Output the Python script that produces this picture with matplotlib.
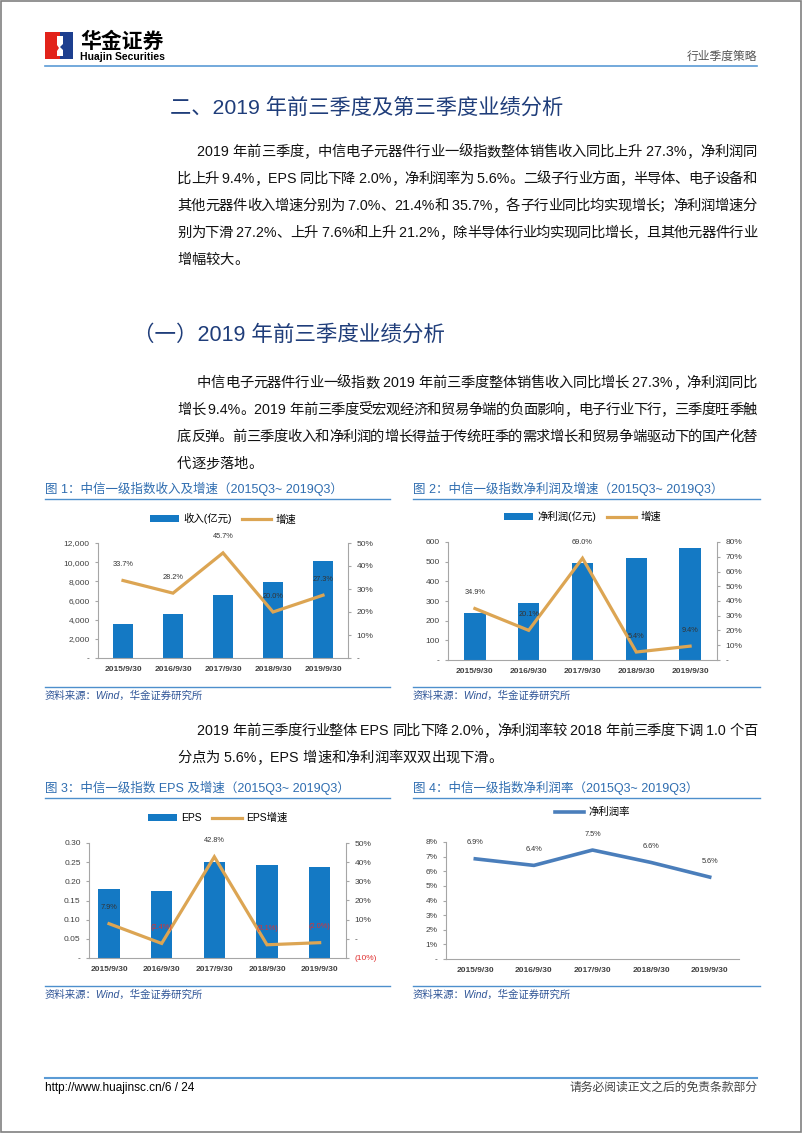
import numpy as np
import matplotlib
matplotlib.use('Agg')
import matplotlib.pyplot as plt
from matplotlib.patches import Rectangle, Polygon
from matplotlib.ticker import FuncFormatter, MultipleLocator

plt.rcParams['font.family'] = ['Liberation Sans', 'Noto Sans CJK SC', 'DejaVu Sans']

W, H = 802, 1133

# ---- data ----
dates = ['2015/9/30', '2016/9/30', '2017/9/30', '2018/9/30', '2019/9/30']
revenue = [3550, 4580, 6600, 7950, 10100]
revenue_g = [33.7, 28.2, 45.7, 20.0, 27.3]
profit = [240, 290, 493, 518, 570]
profit_g = [34.9, 20.1, 69.0, 5.4, 9.4]
eps = [0.180, 0.175, 0.250, 0.242, 0.237]
eps_g = [7.9, -2.4, 42.8, -3.1, -2.0]
margin = [6.85, 6.4, 7.45, 6.6, 5.6]
margin_lbl = ['6.9%', '6.4%', '7.5%', '6.6%', '5.6%']

para1 = ['2019 年前三季度，中信电子元器件行业一级指数整体销售收入同比上升 27.3%，净利润同',
         '比上升 9.4%，EPS 同比下降 2.0%，净利润率为 5.6%。二级子行业方面，半导体、电子设备和',
         '其他元器件收入增速分别为 7.0%、21.4%和 35.7%，各子行业同比均实现增长；净利润增速分',
         '别为下滑 27.2%、上升 7.6%和上升 21.2%，除半导体行业均实现同比增长，且其他元器件行业',
         '增幅较大。']
para2 = ['中信电子元器件行业一级指数 2019 年前三季度整体销售收入同比增长 27.3%，净利润同比',
         '增长 9.4%。2019 年前三季度受宏观经济和贸易争端的负面影响，电子行业下行，三季度旺季触',
         '底反弹。前三季度收入和净利润的增长得益于传统旺季的需求增长和贸易争端驱动下的国产化替',
         '代逐步落地。']
para3 = ['2019 年前三季度行业整体 EPS 同比下降 2.0%，净利润率较 2018 年前三季度下调 1.0 个百',
         '分点为 5.6%，EPS 增速和净利润率双双出现下滑。']

BAR = '#1479c4'
ORANGE = '#dca553'
LBLUE = '#4a7ebb'
NAVY = '#1f3d7a'
TBLUE = '#2f6db0'
GRID = '#a6a6a6'

fig = plt.figure(figsize=(W / 100, H / 100), dpi=100)
page = fig.add_axes([0, 0, 1, 1])
page.set_xlim(0, W)
page.set_ylim(H, 0)
page.axis('off')
page.add_patch(Rectangle((0.5, 0.5), W - 1.5, H - 1.5, fill=False, ec='#808080', lw=1.2))

# header
page.add_patch(Rectangle((45, 32), 15, 27, color='#e2231a', lw=0))
page.add_patch(Rectangle((60, 32), 13, 27, color='#1d3f8f', lw=0))
page.add_patch(Polygon([(57, 36), (63, 36), (63, 44), (60, 47), (63, 50), (63, 56), (57, 56),
                        (57, 51), (59, 48), (57, 45)], color='white', lw=0))
page.text(80, 41, '华金证券', fontsize=15, fontweight='bold', va='center', ha='left',
          family=['Noto Sans CJK SC'])
page.text(80, 57.5, 'Huajin Securities', fontsize=7.5, fontweight='bold', va='center', ha='left')
page.text(757, 57, '行业季度策略', fontsize=8.5, color='#555555', va='center', ha='right')
page.plot([45, 757], [65.5, 65.5], color='#5b9bd5', lw=1.2)

# footer
page.plot([45, 757], [1078, 1078], color='#5b9bd5', lw=1.5)
page.text(45, 1088, 'http://www.huajinsc.cn/6 / 24', fontsize=8.5, va='center', ha='left')
page.text(757, 1088, '请务必阅读正文之后的免责条款部分', fontsize=8.5, color='#444444',
          va='center', ha='right')

page.text(170, 107, '二、2019 年前三季度及第三季度业绩分析', fontsize=15.3, color=NAVY,
          va='center', ha='left')
page.text(133, 335, '（一）2019 年前三季度业绩分析', fontsize=15.5, color=NAVY,
          va='center', ha='left')

renderer = fig.canvas.get_renderer()


def tokens(s):
    out, buf = [], ''
    for ch in s:
        if ord(ch) < 128:
            buf += ch
        else:
            if buf:
                out.append(buf)
                buf = ''
            out.append(ch)
    if buf:
        out.append(buf)
    return out


def line(s, x0, y, x1=757, justify=True, fs=10.3):
    toks = tokens(s)
    ts = [page.text(0, y, t, fontsize=fs, va='center', ha='left', color='#111111') for t in toks]
    ws = [t.get_window_extent(renderer).width for t in ts]
    total = sum(ws)
    gap = (x1 - x0 - total) / (len(ts) - 1) if justify and len(ts) > 1 else 0
    x = x0
    for t, w in zip(ts, ws):
        t.set_x(x)
        x += w + gap


def para(lines, y0, step=27):
    for i, s in enumerate(lines):
        last = i == len(lines) - 1
        line(s, 197 if i == 0 else 177, y0 + i * step, justify=not last)


para(para1, 152)
para(para2, 383)
para(para3, 731)


def rect(l, t, r, b):
    return [l / W, 1 - b / H, (r - l) / W, (b - t) / H]


def caption(x0, x1, y, title):
    page.text(x0, y, title, fontsize=9, color=TBLUE, va='center', ha='left')
    page.plot([x0, x1], [y + 10, y + 10], color='#4d8fcc', lw=1)
    page.text(x0, y + 207, '资料来源：Wind，华金证券研究所', fontsize=7.5, color='#2f5597',
              style='italic', va='center', ha='left')
    page.plot([x0, x1], [y + 198, y + 198], color='#4d8fcc', lw=1)


caption(45, 390, 489, '图 1：中信一级指数收入及增速（2015Q3~ 2019Q3）')
caption(413, 760, 489, '图 2：中信一级指数净利润及增速（2015Q3~ 2019Q3）')
caption(45, 390, 788, '图 3：中信一级指数 EPS 及增速（2015Q3~ 2019Q3）')
caption(413, 760, 788, '图 4：中信一级指数净利润率（2015Q3~ 2019Q3）')

LEG = dict(frameon=False, fontsize=7.5, handlelength=2.8, handleheight=0.6,
           columnspacing=1.0, handletextpad=0.4)


def style(ax):
    for s in ['top', 'right']:
        ax.spines[s].set_visible(False)
    for s in ['left', 'bottom']:
        ax.spines[s].set_color(GRID)
    ax.tick_params(axis='both', labelsize=6, colors='#404040', length=2.5, color=GRID)
    ax.tick_params(axis='x', length=0, pad=6)
    ax.set_xticks(range(5))
    ax.set_xticklabels(dates, fontsize=6, fontweight='bold', color='#404040')


def right_axis(ax, lo, hi, step):
    ax2 = ax.twinx()
    for s in ['top', 'left', 'bottom']:
        ax2.spines[s].set_visible(False)
    ax2.spines['right'].set_color(GRID)
    ax2.set_ylim(lo, hi)
    ax2.yaxis.set_major_locator(MultipleLocator(step))
    ax2.yaxis.set_major_formatter(FuncFormatter(
        lambda v, p: '-' if abs(v) < 1e-9 else (f'({-v:.0f}%)' if v < 0 else f'{v:.0f}%')))
    ax2.tick_params(axis='y', labelsize=6, colors='#404040', length=2.5, color=GRID)
    return ax2


def growth_line(ax2, vals, red_neg=False):
    ax2.plot(range(5), vals, color=ORANGE, lw=2.3, solid_joinstyle='miter')
    for i, v in enumerate(vals):
        txt = f'({-v:.1f}%)' if v < 0 else f'{v:.1f}%'
        c = '#e03030' if (v < 0 and red_neg) else '#333333'
        ax2.annotate(txt, (i, v), xytext=(0, 9), textcoords='offset points', ha='center',
                     va='bottom', fontsize=5.3, color=c)


# chart 1
ax = fig.add_axes(rect(98, 543, 348, 658))
b = ax.bar(range(5), revenue, width=0.4, color=BAR, zorder=1)
ax.set_xlim(-0.5, 4.5)
ax.set_ylim(0, 12000)
ax.yaxis.set_major_locator(MultipleLocator(2000))
ax.yaxis.set_major_formatter(FuncFormatter(lambda v, p: '-' if v == 0 else f'{v:,.0f}'))
style(ax)
ax2 = right_axis(ax, 0, 50, 10)
growth_line(ax2, revenue_g)
l, = ax2.plot([], [], color=ORANGE, lw=2.3)
ax.legend([b, l], ['收入(亿元)', '增速'], loc='lower center', bbox_to_anchor=(0.5, 1.08),
          ncol=2, **LEG)

# chart 2
ax = fig.add_axes(rect(448, 542, 717, 660))
b = ax.bar(range(5), profit, width=0.4, color=BAR, zorder=1)
ax.set_xlim(-0.5, 4.5)
ax.set_ylim(0, 600)
ax.yaxis.set_major_locator(MultipleLocator(100))
ax.yaxis.set_major_formatter(FuncFormatter(lambda v, p: '-' if v == 0 else f'{v:.0f}'))
style(ax)
ax2 = right_axis(ax, 0, 80, 10)
growth_line(ax2, profit_g)
l, = ax2.plot([], [], color=ORANGE, lw=2.3)
ax.legend([b, l], ['净利润(亿元)', '增速'], loc='lower center', bbox_to_anchor=(0.5, 1.09),
          ncol=2, **LEG)

# chart 3
ax = fig.add_axes(rect(89, 843, 346, 958))
b = ax.bar(range(5), eps, width=0.4, color=BAR, zorder=1)
ax.set_xlim(-0.38, 4.5)
ax.set_ylim(0, 0.30)
ax.yaxis.set_major_locator(MultipleLocator(0.05))
ax.yaxis.set_major_formatter(FuncFormatter(lambda v, p: '-' if abs(v) < 1e-9 else f'{v:.2f}'))
style(ax)
ax2 = right_axis(ax, -10, 50, 10)
growth_line(ax2, eps_g, red_neg=True)
fig.canvas.draw()
for t in ax2.get_yticklabels():
    if t.get_text().startswith('('):
        t.set_color('#e03030')
l, = ax2.plot([], [], color=ORANGE, lw=2.3)
ax.legend([b, l], ['EPS', 'EPS增速'], loc='lower center', bbox_to_anchor=(0.5, 1.09),
          ncol=2, **LEG)

# chart 4
ax = fig.add_axes(rect(446, 842, 739, 959))
ax.plot(range(5), margin, color=LBLUE, lw=2.6, label='净利润率')
for i, (v, t) in enumerate(zip(margin, margin_lbl)):
    ax.annotate(t, (i, v), xytext=(0, 9), textcoords='offset points', ha='center',
                va='bottom', fontsize=5.3, color='#333333')
ax.set_xlim(-0.5, 4.5)
ax.set_ylim(0, 8)
ax.yaxis.set_major_locator(MultipleLocator(1))
ax.yaxis.set_major_formatter(FuncFormatter(lambda v, p: '-' if v == 0 else f'{v:.0f}%'))
style(ax)
ax.legend(loc='lower center', bbox_to_anchor=(0.5, 1.13), frameon=False, fontsize=7.5,
          handlelength=2.8, handletextpad=0.4)

fig.savefig('out.png', dpi=100)
